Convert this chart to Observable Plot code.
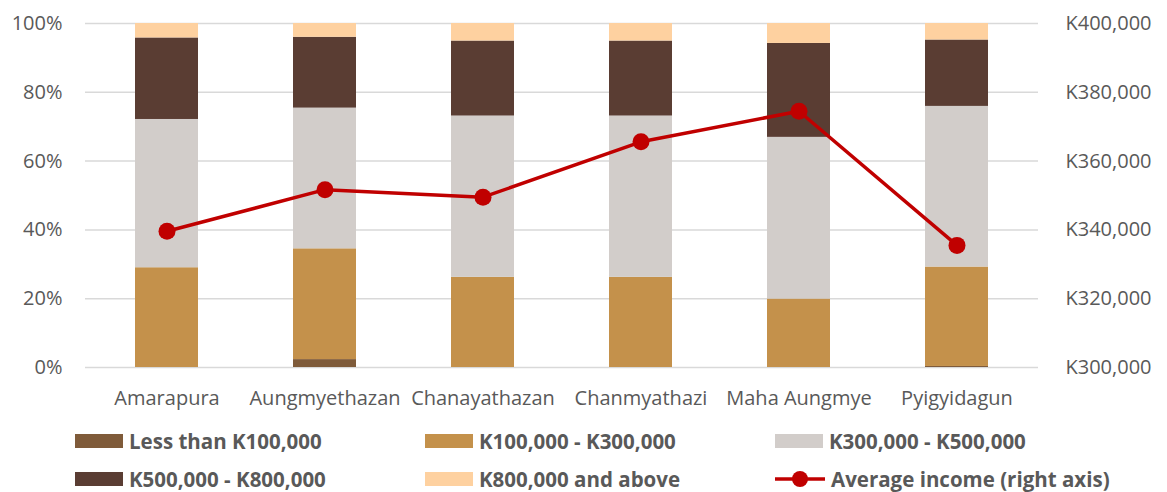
<!DOCTYPE html>
<html>
<head>
<meta charset="utf-8">
<script src="https://cdn.jsdelivr.net/npm/d3@7"></script>
<script src="https://cdn.jsdelivr.net/npm/@observablehq/plot@0.6"></script>
<style>
  html, body { margin: 0; padding: 0; background: #fff; }
  #wrap { position: relative; width: 1167px; height: 492px; font-family: "Open Sans", sans-serif; }
  .leg { position: absolute; display: flex; align-items: center; font-weight: bold; font-size: 20.5px; color: #595959; white-space: nowrap; }
  .sw { width: 48px; height: 14px; margin-right: 6px; }
</style>
</head>
<body>
<div id="wrap"><div id="chart"></div><div id="legend"></div></div>
<script>
const districts = ["Amarapura", "Aungmyethazan", "Chanayathazan", "Chanmyathazi", "Maha Aungmye", "Pyigyidagun"];
const seriesNames = ["Less than K100,000", "K100,000 - K300,000", "K300,000 - K500,000", "K500,000 - K800,000", "K800,000 and above"];
const seriesColors = ["#7f5b3a", "#c4914b", "#d2cdca", "#5a3d33", "#fed1a0"];
const lessThan100k = [0, 2.3, 0, 0, 0, 0.3];
const k100to300 = [29.0, 32.2, 26.2, 26.2, 19.9, 28.9];
const k300to500 = [43.1, 40.9, 46.9, 46.9, 47.0, 46.7];
const k500to800 = [23.7, 20.6, 21.8, 21.8, 27.3, 19.3];
const k800plus = [4.2, 4.0, 5.1, 5.1, 5.8, 4.8];
const avgIncome = [339600, 351700, 349500, 365600, 374500, 335500];
const lineName = "Average income (right axis)";
const lineColor = "#c00000";
const leftTickValues = [0, 20, 40, 60, 80, 100];
const leftTickLabels = ["0%", "20%", "40%", "60%", "80%", "100%"];
const rightTickValues = [300000, 320000, 340000, 360000, 380000, 400000];
const rightTickLabels = ["K300,000", "K320,000", "K340,000", "K360,000", "K380,000", "K400,000"];

const seriesValues = [lessThan100k, k100to300, k300to500, k500to800, k800plus];
const barData = [];
seriesNames.forEach((s, si) => districts.forEach((d, di) => barData.push({district: d, series: s, value: seriesValues[si][di]})));

// map right-axis income onto the left percentage scale
const rMin = rightTickValues[0], rMax = rightTickValues[rightTickValues.length - 1];
const toPct = v => (v - rMin) / (rMax - rMin) * 100;
const lineData = districts.map((d, i) => ({district: d, income: avgIncome[i], pct: toPct(avgIncome[i])}));

const chart = Plot.plot({
  width: 1167,
  height: 415,
  marginLeft: 85,
  marginRight: 129,
  marginTop: 23,
  marginBottom: 48,
  style: {fontFamily: "Open Sans, sans-serif", fontSize: "20px", color: "#595959", background: "#fff"},
  x: {domain: districts, paddingInner: 0.6, paddingOuter: 0.3, label: null},
  y: {domain: [0, 100], label: null},
  color: {domain: seriesNames, range: seriesColors},
  marks: [
    Plot.gridY(leftTickValues, {stroke: "#d9d9d9", strokeOpacity: 1, strokeWidth: 1.5}),
    Plot.axisY({anchor: "left", ticks: leftTickValues, tickSize: 0, tickPadding: 23, label: null,
      tickFormat: d => leftTickLabels[leftTickValues.indexOf(d)]}),
    Plot.axisY({anchor: "right", ticks: rightTickValues.map(toPct), tickSize: 0, tickPadding: 27, label: null, textAnchor: "start",
      tickFormat: d => rightTickLabels[rightTickValues.map(toPct).findIndex(t => Math.abs(t - d) < 1e-9)]}),
    Plot.axisX({tickSize: 0, tickPadding: 23, label: null}),
    Plot.barY(barData, Plot.stackY({order: seriesNames}, {x: "district", y: "value", fill: "series"})),
    Plot.line(lineData, {x: "district", y: "pct", stroke: lineColor, strokeWidth: 3.5}),
    Plot.dot(lineData, {x: "district", y: "pct", r: 8.5, fill: lineColor, stroke: "none"})
  ]
});
document.getElementById("chart").appendChild(chart);

// legend
const legend = document.getElementById("legend");
const items = seriesNames.map((s, i) => ({name: s, color: seriesColors[i], type: "box"}));
items.push({name: lineName, color: lineColor, type: "line"});
const colX = [75, 425, 775];
const rowY = [441, 479];
items.forEach((it, i) => {
  const el = document.createElement("div");
  el.className = "leg";
  el.style.left = colX[i % 3] + "px";
  el.style.top = (rowY[Math.floor(i / 3)] - 14) + "px";
  el.style.height = "28px";
  if (it.type === "box") {
    const sw = document.createElement("div");
    sw.className = "sw";
    sw.style.background = it.color;
    el.appendChild(sw);
  } else {
    const svg = document.createElementNS("http://www.w3.org/2000/svg", "svg");
    svg.setAttribute("width", 50); svg.setAttribute("height", 20);
    svg.style.marginRight = "6px";
    svg.innerHTML = `<line x1="0" y1="10" x2="50" y2="10" stroke="${it.color}" stroke-width="3.5"/><circle cx="25" cy="10" r="8" fill="${it.color}"/>`;
    el.appendChild(svg);
  }
  const t = document.createElement("span");
  t.textContent = it.name;
  el.appendChild(t);
  legend.appendChild(el);
});
</script>
</body>
</html>
